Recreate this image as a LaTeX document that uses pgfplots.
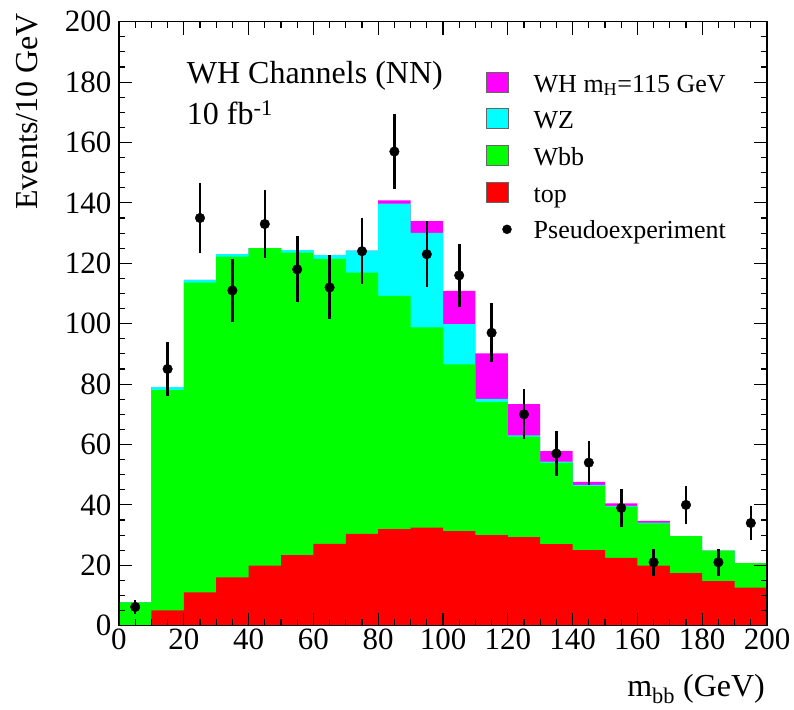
\documentclass[border=0pt]{standalone}
\usepackage{pgfplots}
\pgfplotsset{compat=1.18}
\usepackage{pgfplotstable}
\usepackage{fontspec}
\setmainfont{Liberation Serif}

% cumulative heights of the stacked histogram (bin low edge)
\pgfplotstableread{
lo   top   wbb    wz     wh
0    0     7.7    7.7    7.7
10   5.1   78     79     79
20   11    113.6  114.5  114.5
30   16    122.2  123    123
40   19.9  125    125    125
50   23.4  123.5  124.4  124.4
60   27.1  121.5  122.7  122.7
70   30.4  116.9  124.2  124.2
80   32    109.2  139.8  140.8
90   32.5  98.8   130.1  134
100  31.3  86.5   99.9   110.9
110  30    74     75.1   90.2
120  29.3  62.6   63     73.4
130  27    53.9   54.3   57.8
140  25    46.2   46.6   47.6
150  22.5  39.4   39.7   40.5
160  19.9  33.9   34.1   34.7
170  17.4  29.7   29.7   29.7
180  14.8  24.9   24.9   24.9
190  12.6  20.7   20.7   20.7
200  12.6  20.7   20.7   20.7
}\stacktab

% pseudoexperiment
\pgfplotstableread{
x    y      e
5    6.2    2.2
15   85     9
25   135    11.5
35   111    10.4
45   133    11.3
55   118    10.9
65   112    10.6
75   124    11
85   157    12.4
95   123    11
105  116    10.5
115  97     9.7
125  70     8.3
135  57     7.5
145  54     7.3
155  39     6.2
165  21     4.4
175  40     6.2
185  21     4.5
195  34     5.7
}\pseudotab

\pgfplotsset{
  boxleg/.style={legend image code/.code={
    \draw[##1, draw=black!60, line width=0.8bp] (0bp,-1.7bp) rectangle (22bp,18.3bp);}},
}

\begin{document}
\begin{tikzpicture}
\begin{axis}[
  name=ax,
  scale only axis,
  width=648bp, height=604bp,
  xmin=0, xmax=200, ymin=0, ymax=200,
  xtick distance=20, ytick distance=20,
  minor x tick num=3, minor y tick num=3,
  tick align=inside,
  major tick length=13bp, minor tick length=6.5bp,
  every tick/.style={black, line width=1.1bp},
  axis line style={line width=1.2bp},
  axis on top,
  /pgf/number format/assume math mode=true,
  tick label style={font=\fontsize{31bp}{37bp}\selectfont},
  yticklabel style={xshift=-4bp},
  xlabel={m\textsubscript{bb} (GeV)},
  ylabel={Events/10 GeV},
  label style={font=\fontsize{32bp}{38bp}\selectfont},
  xlabel style={at={(axis description cs:0.997,-0.118)}, anchor=base east, inner sep=0pt},
  ylabel style={at={(axis description cs:-0.125,1.0144)}, anchor=base east, inner sep=0pt},
  legend style={
    at={(axis description cs:0.5662,0.9175)}, anchor=north west,
    draw=none, fill=none, inner sep=0pt, outer sep=0pt,
    font=\fontsize{26bp}{31bp}\selectfont,
    column sep=22bp, row sep=0pt,
    nodes={inner sep=0pt, text height=20bp, text depth=16bp},
  },
  legend cell align=left,
]

% stacked histogram, drawn from the outermost total inwards
\addplot[const plot, fill={rgb,255:red,255;green,0;blue,255}, draw=none, forget plot]
  table[x=lo, y=wh]{\stacktab} \closedcycle;
\addplot[const plot, fill={rgb,255:red,0;green,255;blue,255}, draw=none, forget plot]
  table[x=lo, y=wz]{\stacktab} \closedcycle;
\addplot[const plot, fill={rgb,255:red,0;green,255;blue,0}, draw=none, forget plot]
  table[x=lo, y=wbb]{\stacktab} \closedcycle;
\addplot[const plot, fill={rgb,255:red,255;green,0;blue,0}, draw=none, forget plot]
  table[x=lo, y=top]{\stacktab} \closedcycle;

\addplot[only marks, mark=*, mark size=4.8bp, black, forget plot,
  error bars/.cd, y dir=both, y explicit,
  error bar style={line width=2.6bp}, error mark=none]
  table[x=x, y=y, y error=e]{\pseudotab};

\addlegendimage{boxleg, fill={rgb,255:red,255;green,0;blue,255}}
\addlegendentry{WH m\textsubscript{H}=115 GeV}
\addlegendimage{boxleg, fill={rgb,255:red,0;green,255;blue,255}}
\addlegendentry{WZ}
\addlegendimage{boxleg, fill={rgb,255:red,0;green,255;blue,0}}
\addlegendentry{Wbb}
\addlegendimage{boxleg, fill={rgb,255:red,255;green,0;blue,0}}
\addlegendentry{top}
\addlegendimage{legend image code/.code={\fill[black] (20.7bp,7bp) circle (4.5bp);}}
\addlegendentry{Pseudoexperiment}

\node[anchor=base west, inner sep=0pt, font=\fontsize{32bp}{38bp}\selectfont]
  at (axis cs:20.9,179.6) {WH Channels (NN)};
\node[anchor=base west, inner sep=0pt, font=\fontsize{32bp}{38bp}\selectfont]
  at (axis cs:20.9,165.9) {10 fb\textsuperscript{-1}};
\end{axis}
\pgfresetboundingbox
\path[use as bounding box] ([shift={(-119bp,-84.3bp)}]ax.south west)
  rectangle ([shift={(675bp,625.7bp)}]ax.south west);
\end{tikzpicture}
\end{document}
